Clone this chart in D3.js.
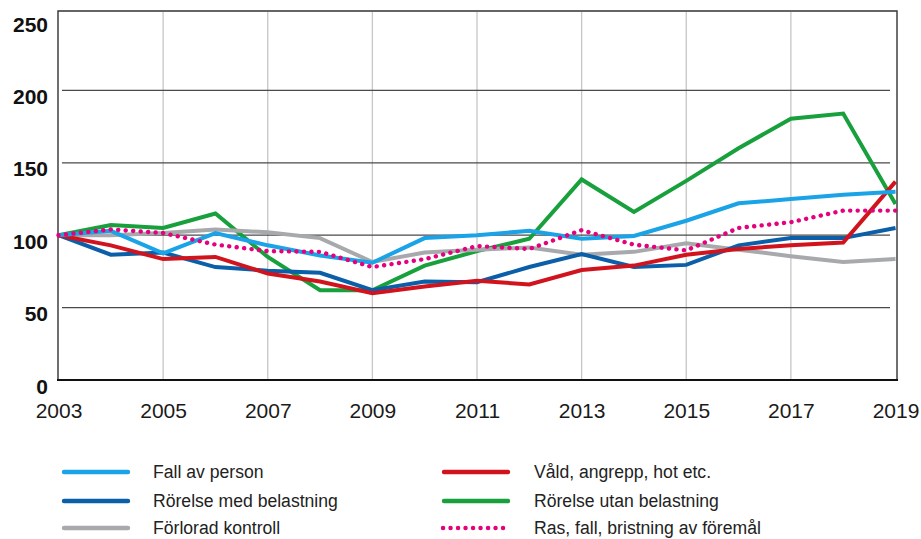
<!DOCTYPE html>
<html>
<head>
<meta charset="utf-8">
<script src="https://cdn.jsdelivr.net/npm/d3@7"></script>
<style>
  html, body { margin: 0; padding: 0; background: #fff; }
  svg { display: block; }
</style>
</head>
<body>
<script>
const years = [2003,2004,2005,2006,2007,2008,2009,2010,2011,2012,2013,2014,2015,2016,2017,2018,2019];
const xTickYears = [2003,2005,2007,2009,2011,2013,2015,2017,2019];
const yTicks = [0,50,100,150,200,250];

const fallAvPerson      = [100,103,87.5,101.5,93,86,81,98,100,103,97.5,99.5,110,122,125,128,130];
const rorelseMed        = [100,86.5,88,78,75.5,74,62,68,67.5,78,87,78,79.5,93,98,98,105];
const forloradKontroll  = [100,100,101.5,104,102,98,81.5,88,90,91.5,86.5,88.5,94.5,90,85.5,81.5,83.5];
const valdAngrepp       = [100,93,83.5,85,73.5,68,60,64.5,68.5,66,76,79,86.5,90.5,93,95,137];
const rorelseUtan       = [100,107,105,115,85,62,62,79,89,97.5,138.5,116,137.5,160,180.5,184,121.5];
const rasFall           = [100,104,101.5,93.5,89,88.5,78,83.5,92.5,90.5,103.5,93.5,89.5,105,109,117,117];

const seriesNames  = ["Fall av person","Våld, angrepp, hot etc.","Rörelse med belastning","Rörelse utan belastning","Förlorad kontroll","Ras, fall, bristning av föremål"];
const seriesColors = ["#1aa3e6","#d1131d","#0b5ea8","#17a03c","#a7a9ac","#e5007d"];
const seriesValues = [fallAvPerson, valdAngrepp, rorelseMed, rorelseUtan, forloradKontroll, rasFall];
const seriesDotted = [false,false,false,false,false,true];
const drawOrder = [3,4,2,1,0,5];

const W = 921, H = 539;
const svg = d3.select("body").append("svg").attr("width", W).attr("height", H);

const x = d3.scaleLinear().domain([2003, 2019]).range([58.5, 895.5]);
const y = d3.scaleLinear().domain([0, 250]).range([380, 18]);

const fontFam = "'Liberation Sans', Arial, Helvetica, sans-serif";

// vertical grid lines (light)
svg.append("g").selectAll("line")
  .data(xTickYears.filter(d => d > 2003 && d < 2019))
  .join("line")
  .attr("x1", d => x(d)).attr("x2", d => x(d))
  .attr("y1", 12).attr("y2", y(0))
  .attr("stroke", "#c6c6c6").attr("stroke-width", 1.3);

// horizontal grid lines (dark)
svg.append("g").selectAll("line")
  .data(yTicks.filter(d => d > 0 && d < 250))
  .join("line")
  .attr("x1", 62).attr("x2", 890)
  .attr("y1", d => y(d)).attr("y2", d => y(d))
  .attr("stroke", "#4a4a4a").attr("stroke-width", 1.3);

// frame
svg.append("path")
  .attr("d", `M58,${y(0)} L58,11 L897,11 L897,${y(0)}`)
  .attr("fill", "none").attr("stroke", "#333").attr("stroke-width", 1.4);
svg.append("line")
  .attr("x1", 57).attr("x2", 898).attr("y1", y(0)).attr("y2", y(0))
  .attr("stroke", "#111").attr("stroke-width", 2);

// lines
const line = d3.line().x((d, i) => x(years[i])).y(d => y(d));
drawOrder.forEach(k => {
  const p = svg.append("path")
    .attr("d", line(seriesValues[k]))
    .attr("fill", "none")
    .attr("stroke", seriesColors[k])
    .attr("stroke-width", 4)
    .attr("stroke-linejoin", "miter");
  if (seriesDotted[k]) {
    p.attr("stroke-dasharray", "0.1 7.4").attr("stroke-linecap", "round").attr("stroke-width", 4.4);
  }
});

// axes (labels only)
const xAxis = d3.axisBottom(x).tickValues(xTickYears).tickFormat(d3.format("d")).tickSize(0).tickPadding(0);
const gx = svg.append("g").attr("transform", `translate(0, ${y(0)})`).call(xAxis);
gx.select(".domain").remove();
gx.selectAll("text")
  .attr("y", 38).attr("dy", null)
  .attr("font-family", fontFam).attr("font-size", 21).attr("fill", "#1a1a1a");

const yAxis = d3.axisLeft(y).tickValues(yTicks).tickSize(0).tickPadding(0);
const gy = svg.append("g").attr("transform", "translate(48,0)").call(yAxis);
gy.select(".domain").remove();
gy.selectAll("text")
  .attr("x", 0).attr("dy", null).attr("y", 13)
  .attr("text-anchor", "end")
  .attr("font-family", fontFam).attr("font-size", 21).attr("font-weight", "bold").attr("fill", "#111");

// legend
const legendPos = [
  {lx: 62, tx: 153, ly: 472},
  {lx: 442, tx: 534, ly: 472},
  {lx: 62, tx: 153, ly: 501},
  {lx: 442, tx: 534, ly: 501},
  {lx: 62, tx: 153, ly: 528},
  {lx: 442, tx: 534, ly: 528}
];
const lg = svg.append("g");
seriesNames.forEach((name, k) => {
  const pos = legendPos[k];
  const l = lg.append("line")
    .attr("x1", pos.lx + 2).attr("x2", pos.lx + 66)
    .attr("y1", pos.ly).attr("y2", pos.ly)
    .attr("stroke", seriesColors[k]).attr("stroke-width", 4.4)
    .attr("stroke-linecap", "round");
  if (seriesDotted[k]) {
    l.attr("stroke-dasharray", "0.1 7.4").attr("x1", pos.lx + 1).attr("x2", pos.lx + 68);
  }
  lg.append("text")
    .attr("x", pos.tx).attr("y", pos.ly + 6)
    .attr("font-family", fontFam).attr("font-size", 17.6).attr("fill", "#222")
    .text(name);
});
</script>
</body>
</html>
